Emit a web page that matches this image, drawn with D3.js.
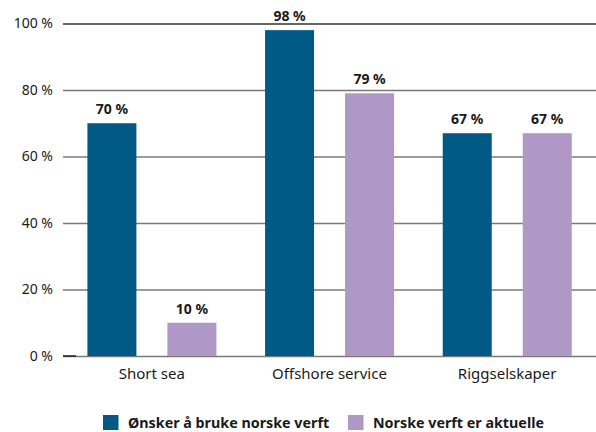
<!DOCTYPE html>
<html><head><meta charset="utf-8">
<script src="https://cdn.jsdelivr.net/npm/d3@7"></script>
<style>body{margin:0;background:#fff}svg{display:block}text{font-family:"Noto Sans",sans-serif;fill:#1a1a1a}</style>
</head><body><svg id="c" width="596" height="432"></svg>
<script>
const categories = ["Short sea", "Offshore service", "Riggselskaper"];
const seriesNames = ["Ønsker å bruke norske verft", "Norske verft er aktuelle"];
const seriesA = [70, 98, 67];
const seriesB = [10, 79, 67];
const yTicks = [0, 20, 40, 60, 80, 100];
const colors = ["#015a85", "#af97c6"];

const svg = d3.select("#c");
const mLeft = 63, mRight = 596, mTop = 23.5, mBottom = 356;
const y = d3.scaleLinear().domain([0, 100]).range([mBottom, mTop]);
const x0 = d3.scaleBand().domain(categories).range([mLeft, mRight]).padding(0);
const x1 = d3.scaleBand().domain([0, 1]).range([24.4, 153.4]).paddingInner(0.3875).paddingOuter(0);

// gridlines
const yAxis = d3.axisLeft(y).tickValues(yTicks).tickSize(-(mRight - mLeft)).tickFormat(d => d + " %").tickPadding(10);
const ga = svg.append("g").attr("transform", `translate(${mLeft},0)`).call(yAxis);
ga.select(".domain").remove();
ga.selectAll(".tick line").attr("stroke", "#7a7a7a").attr("stroke-width", 1.5);
ga.selectAll(".tick").filter(d => d === 100).select("line").attr("stroke", "#333");
ga.selectAll(".tick text").attr("font-size", 14).attr("fill", "#1a1a1a").attr("font-family", "Noto Sans");

// bars
const data = categories.map((c, i) => ({c, vals: [seriesA[i], seriesB[i]]}));
const g = svg.append("g").selectAll("g").data(data).join("g").attr("transform", d => `translate(${x0(d.c)},0)`);
g.selectAll("rect").data(d => d.vals.map((v, k) => ({v, k}))).join("rect")
  .attr("x", d => x1(d.k)).attr("width", x1.bandwidth())
  .attr("y", d => y(d.v)).attr("height", d => y(0) - y(d.v))
  .attr("fill", d => colors[d.k]);
g.selectAll("text.v").data(d => d.vals.map((v, k) => ({v, k}))).join("text").attr("class", "v")
  .attr("x", d => x1(d.k) + x1.bandwidth() / 2).attr("y", d => y(d.v) - 9)
  .attr("text-anchor", "middle").attr("font-size", 14).attr("font-weight", "bold")
  .text(d => d.v + " %");

// baseline tick segment
svg.append("line").attr("x1", mLeft).attr("x2", mLeft + 13).attr("y1", y(0)).attr("y2", y(0)).attr("stroke", "#222").attr("stroke-width", 1.5);

// category labels
const xAxis = d3.axisBottom(x0).tickSize(0).tickPadding(12);
const gx = svg.append("g").attr("transform", `translate(0,${mBottom})`).call(xAxis);
gx.select(".domain").remove();
gx.selectAll("text").attr("font-size", 15).attr("fill", "#1a1a1a").attr("font-family", "Noto Sans");

// legend
const lx = [103, 348];
const lg = svg.append("g").selectAll("g").data(seriesNames).join("g").attr("transform", (d, i) => `translate(${lx[i]},415)`);
lg.append("rect").attr("width", 15.5).attr("height", 15).attr("fill", (d, i) => colors[i]);
lg.append("text").attr("x", 25).attr("y", 13).attr("font-size", 14.3).attr("font-weight", "bold").text(d => d);
</script></body></html>
